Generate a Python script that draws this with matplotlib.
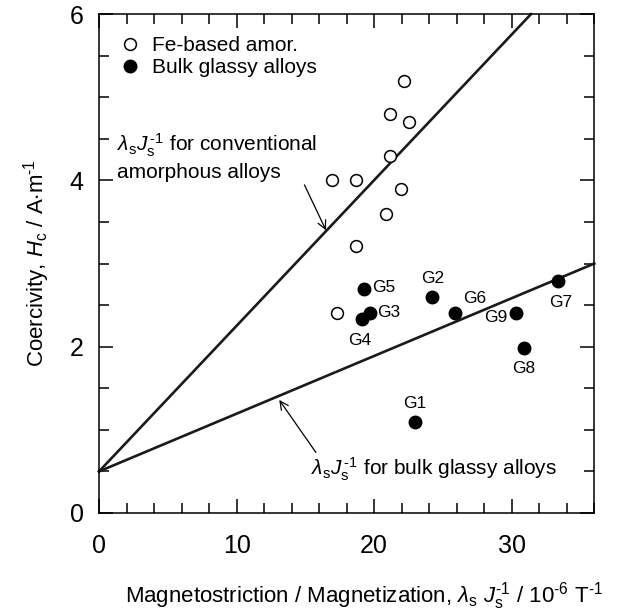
import matplotlib
matplotlib.use("Agg")
import matplotlib.pyplot as plt
from matplotlib.ticker import MultipleLocator

plt.rcParams['font.family'] = ['Liberation Sans', 'DejaVu Sans']
plt.rcParams['mathtext.fontset'] = 'custom'
plt.rcParams['mathtext.rm'] = 'Liberation Sans'
plt.rcParams['mathtext.it'] = 'Liberation Sans:italic'

# Fe-based amorphous alloys (open circles)
amor_x = [16.97, 18.66, 18.66, 17.3, 21.13, 21.13, 20.89, 21.98, 22.2, 22.5]
amor_y = [4.00, 4.00, 3.21, 2.40, 4.29, 4.80, 3.60, 3.90, 5.19, 4.70]

# bulk glassy alloys (filled circles)
bulk_names = ['G1', 'G2', 'G3', 'G4', 'G5', 'G6', 'G7', 'G8', 'G9']
bulk_x = [22.95, 24.23, 19.68, 19.15, 19.24, 25.85, 33.36, 30.89, 30.28]
bulk_y = [1.09, 2.60, 2.41, 2.33, 2.69, 2.41, 2.79, 1.99, 2.40]
# label offsets in points
label_off = {'G1': (0, 8), 'G2': (0, 8), 'G3': (5, 0), 'G4': (-2, -10),
             'G5': (6, 1), 'G6': (6, 5), 'G7': (2, -10), 'G8': (0, -10),
             'G9': (-6, -3)}
label_ha = {'G1': 'center', 'G2': 'center', 'G3': 'left', 'G4': 'center',
            'G5': 'left', 'G6': 'left', 'G7': 'center', 'G8': 'center',
            'G9': 'right'}
label_va = {'G1': 'bottom', 'G2': 'bottom', 'G3': 'center', 'G4': 'top',
            'G5': 'center', 'G6': 'bottom', 'G7': 'top', 'G8': 'top',
            'G9': 'center'}

# lambda_s J_s^-1 lines (start, end)
conv_line_x = [0, 31.4]
conv_line_y = [0.5, 6.0]
bulk_line_x = [0, 36]
bulk_line_y = [0.5, 3.0]

HY = '\u2010'  # hyphen for superscripts like the original

fig = plt.figure(figsize=(6.19, 6.14), dpi=100)
ax = fig.add_axes([0.16, 0.1645, 0.8, 0.8125])

ax.plot(conv_line_x, conv_line_y, color='#1a1a1a', lw=1.9, clip_on=False)
ax.plot(bulk_line_x, bulk_line_y, color='#1a1a1a', lw=1.9, clip_on=False)

ax.plot(amor_x, amor_y, 'o', ms=8.5, mfc='white', mec='black', mew=1.1,
        ls='none', label='Fe-based amor.', zorder=3)
ax.plot(bulk_x, bulk_y, 'o', ms=9, mfc='black', mec='black',
        ls='none', label='Bulk glassy alloys', zorder=3)

for n, x, y in zip(bulk_names, bulk_x, bulk_y):
    ax.annotate(n, (x, y), xytext=label_off[n], textcoords='offset points',
                ha=label_ha[n], va=label_va[n], fontsize=12.5)

lam = '$\\lambda_{\\mathrm{s}}J_{\\mathrm{s}}^{\\,\\mathrm{' + HY + '1}}$'
ax.annotate(lam + ' for conventional\namorphous alloys',
            xy=(16.5, 3.40), xytext=(1.3, 3.98), fontsize=15, ha='left', va='bottom',
            linespacing=1.25,
            arrowprops=dict(arrowstyle='->', color='black', lw=0.9,
                            shrinkA=0, shrinkB=0, relpos=(0.93, 0.0)))
ax.annotate(lam + ' for bulk glassy alloys',
            xy=(13.1, 1.36), xytext=(15.4, 0.53), fontsize=15, ha='left', va='center',
            arrowprops=dict(arrowstyle='->', color='black', lw=0.9,
                            shrinkA=0, shrinkB=0, relpos=(0.04, 0.85)))

ax.legend(loc='upper left', bbox_to_anchor=(0.012, 0.985), frameon=False,
          fontsize=15, handletextpad=0.55, handlelength=1.0, labelspacing=0.15,
          borderaxespad=0.3)

ax.set_xlim(0, 36)
ax.set_ylim(0, 6)
ax.xaxis.set_major_locator(MultipleLocator(10))
ax.xaxis.set_minor_locator(MultipleLocator(2))
ax.yaxis.set_major_locator(MultipleLocator(2))
ax.yaxis.set_minor_locator(MultipleLocator(0.5))
ax.tick_params(which='both', direction='in', top=True, right=True, width=1.1,
               labelsize=18)
ax.tick_params(axis='x', which='major', pad=15)
ax.tick_params(axis='y', which='major', pad=11)
ax.tick_params(which='major', length=10)
ax.tick_params(which='minor', length=7)
for s in ax.spines.values():
    s.set_linewidth(1.1)

ax.set_ylabel('Coercivity, $H_{\\mathrm{c}}$ / A$\\cdot$m$^{\\mathrm{' + HY + '1}}$',
              fontsize=16)
ax.yaxis.set_label_coords(-0.095, 0.5)
ax.set_xlabel('Magnetostriction / Magnetization, $\\lambda_{\\mathrm{s}}$ '
              '$J_{\\mathrm{s}}^{\\mathrm{' + HY + '1}}$ / 10$^{\\mathrm{' + HY + '6}}$ '
              'T$^{\\mathrm{' + HY + '1}}$',
              fontsize=16)
ax.xaxis.set_label_coords(0.535, -0.135)

fig.savefig('out.png', dpi=100)
